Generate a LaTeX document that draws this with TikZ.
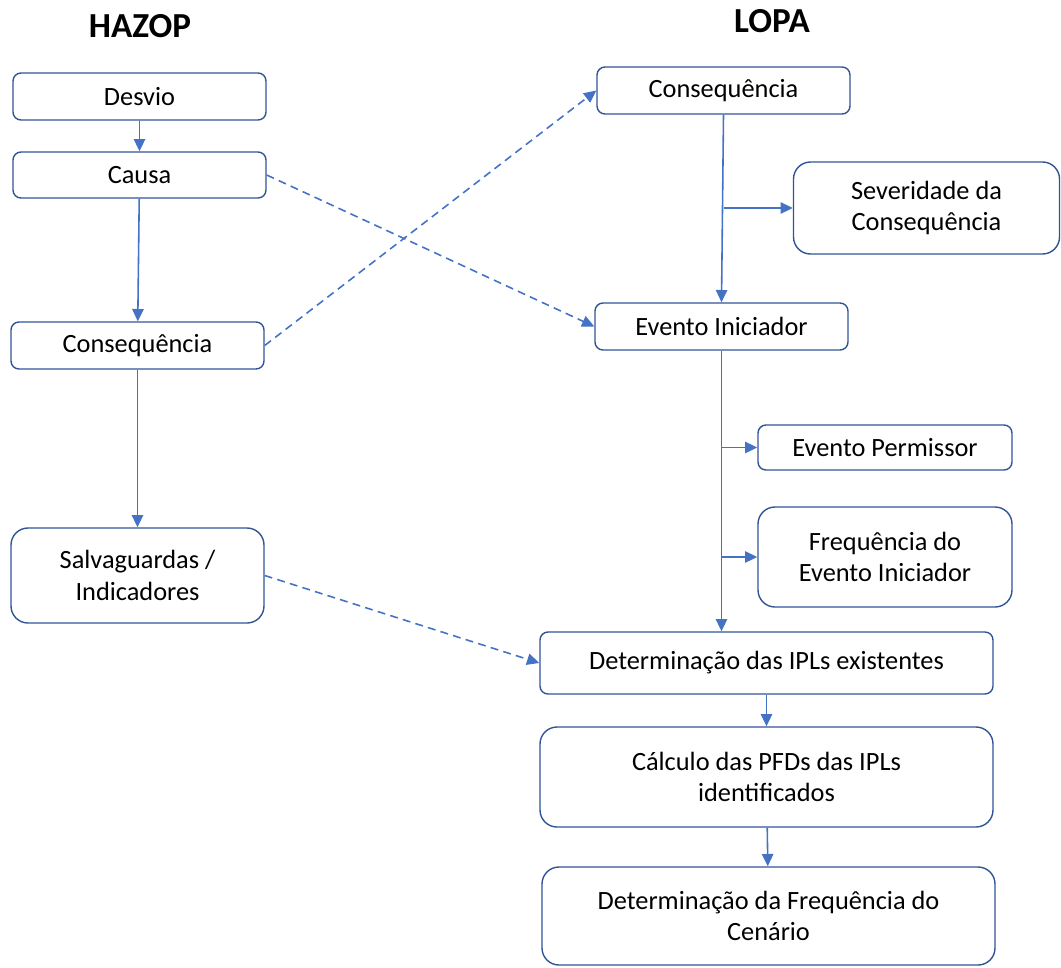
\documentclass[tikz,border=0pt]{standalone}
\usepackage{fontspec}
\setmainfont{Carlito}
\usepackage{tikz}
\usetikzlibrary{arrows.meta}
\definecolor{boxline}{RGB}{47,85,151}
\definecolor{arrline}{RGB}{68,114,196}

\begin{document}
\begin{tikzpicture}[x=0.02cm,y=-0.02cm,
  box/.style={draw=boxline,line width=0.8pt,rounded corners=0.16cm,align=center,
    inner sep=0pt,font=\fontsize{15}{18}\selectfont},
  tall/.style={box,rounded corners=0.34cm},
  sz/.style 2 args={minimum width=#1*0.02cm,minimum height=#2*0.02cm},
  arr/.style={draw=arrline,line width=0.9pt,-{Triangle[length=7pt,width=6.5pt]}},
  dasharr/.style={arr,dash pattern=on 4.5pt off 3pt},
  title/.style={font=\fontsize{20}{24}\selectfont\bfseries}]
\useasboundingbox (0,0) rectangle (1061,967);
\node[title] (hazop) at (140,26) {HAZOP};
\node[title] (lopa) at (772,21) {LOPA};
\node[box,sz={253}{47}] (desvio) at (139.5,96.5) {Desvio};
\node[box,sz={253}{46}] (causa) at (139.5,175) {Causa};
\node[box,sz={253}{47}] (consL) at (137.5,345.5) {Consequência};
\node[tall,sz={253}{95}] (salva) at (137.5,575.5) {Salvaguardas /\\Indicadores};
\node[box,sz={253}{47}] (consR) at (723.5,90.5) {Consequência};
\node[tall,sz={266}{92}] (sever) at (926.5,208) {Severidade da\\Consequência};
\node[box,sz={253}{47}] (evIni) at (721.5,326.5) {Evento Iniciador};
\node[box,sz={254}{45}] (evPer) at (885,447.5) {Evento Permissor};
\node[tall,sz={254}{100}] (freq) at (885,557) {Frequência do\\Evento Iniciador};
\node[box,sz={453}{62}] (detIPL) at (766.5,663) {Determinação das IPLs existentes};
\node[tall,sz={453}{100}] (calc) at (766.5,777) {Cálculo das PFDs das IPLs\\identificados};
\node[tall,sz={453}{98}] (cen) at (768.5,916) {Determinação da Frequência do\\Cenário};
\coordinate (j1) at (consR.south |- sever.west);
\coordinate (j2) at (evIni.south |- evPer.west);
\coordinate (j3) at (evIni.south |- freq.west);
\coordinate (j4) at (evIni.south |- detIPL.north);
\draw[arr] (desvio) -- (causa);
\draw[arr] (causa) -- (consL);
\draw[arr] (consL) -- (salva);
\draw[arr] (consR.south) -- (evIni.north);
\draw[arr] (j1) -- (sever.west);
\draw[arr] (evIni.south) -- (j4);
\draw[arr] (j2) -- (evPer.west);
\draw[arr] (j3) -- (freq.west);
\draw[arr] (detIPL) -- (calc);
\draw[arr] (calc) -- (cen);
\draw[dasharr] (causa.east) -- (evIni.west);
\draw[dasharr] (consL.east) -- (consR.west);
\draw[dasharr] (salva.east) -- (detIPL.west);
\end{tikzpicture}
\end{document}
